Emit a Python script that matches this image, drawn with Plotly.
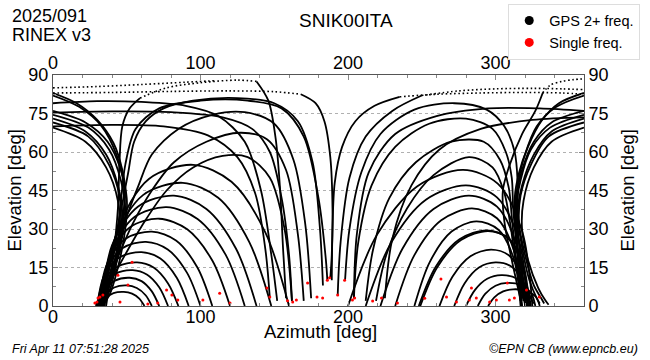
import plotly.graph_objects as go

# ---------------- data (azimuth [deg], elevation [deg]) ----------------
# tracks coming in from the left edge (wrapping north) and setting in the left (NE) funnel
LEFT_FUNNEL_TRACKS = [
    ([0, 16, 30, 41, 47, 49, 47, 42, 37, 35], [83, 79, 72.5, 63.5, 53, 45, 33, 18, 6, 2]),
    ([0, 18, 33, 43, 48, 48, 44, 39, 36], [82, 77.5, 70, 59, 47, 36, 20, 7, 3]),
    ([0, 22, 37, 46, 50, 49, 44, 38, 34], [76, 71.5, 64, 53, 42, 30, 15, 4, 1]),
    ([0, 24, 38, 46, 49, 46, 40, 35, 32], [74.5, 69.5, 61, 49, 37, 24, 11, 3, 1]),
    ([0, 22, 36, 44, 47, 45, 39, 33, 31], [73, 68, 59, 47, 36, 23, 10, 3, 1]),
    ([0, 24, 38, 45, 46, 43, 37, 32, 30], [71.5, 66, 55, 43, 32, 20, 8, 2, 1]),
    ([0, 22, 36, 44, 45, 42, 36, 31, 29], [69.5, 64, 54, 41, 30, 18, 7, 2, 0.5]),
]

# tracks coming in from the right edge and setting in the right (NW) funnel
RIGHT_FUNNEL_TRACKS = [
    ([360, 343, 331, 322, 316, 313, 314, 316, 317], [83, 79, 72, 62, 52, 42, 28, 12, 2]),
    ([360, 341, 328, 320, 315, 313, 315, 318, 320], [82, 77.5, 70, 59, 47, 36, 21, 7, 2]),
    ([360, 338, 326, 318, 314, 314, 317, 321, 323], [76, 71.5, 64, 53, 42, 30, 15, 5, 1]),
    ([360, 337, 324, 317, 314, 316, 320, 324, 326], [74.5, 69.5, 61, 49, 37, 24, 11, 3, 1]),
    ([360, 338, 326, 318, 315, 318, 323, 328, 330], [73, 68, 59, 47, 36, 23, 10, 3, 1]),
    ([360, 336, 324, 317, 316, 320, 326, 331, 333], [71.5, 66, 55, 43, 32, 20, 8, 3, 1]),
    ([360, 338, 326, 319, 318, 322, 329, 334, 336], [69.5, 64, 54, 41, 30, 18, 7, 2, 0.5]),
    ([318, 311, 306, 305, 309, 318, 327, 332], [0, 18, 33, 45, 54, 67, 76, 83]),
]

# high passes: left funnel / left edge -> over the top -> setting in the south (az 140-190)
HIGH_LEFT_TRACKS = [
    ([36, 41, 44, 45, 47, 52, 59], [0, 20, 38, 55, 70, 77, 81]),
    ([138, 146, 151, 154, 156, 158], [87.5, 80, 65, 45, 22, 3]),
    ([168, 178, 184, 188, 189.5, 189, 188], [82.5, 79, 72, 58, 38, 20, 11]),
    ([33, 40, 47, 51, 55, 63, 75, 95, 125, 150, 166, 176, 181, 183], [0, 20, 40, 52, 64, 72, 77, 80, 81, 79, 72, 56, 30, 8]),
    ([31, 39, 50, 58, 67, 85, 108, 130, 150, 163, 171, 175], [0, 17, 35, 47, 59, 69, 74.5, 75.5, 71, 57, 32, 3]),
    ([30, 41, 54, 67, 82, 104, 127, 145, 158, 166, 170], [0, 15, 32, 45, 56, 64, 67.5, 65, 53, 28, 2]),
    ([35, 44, 49, 56, 72, 100, 132, 155, 170, 180, 185, 186], [1, 30, 55, 69, 77, 80, 80, 77, 66, 42, 18, 10]),
    ([29, 45, 60, 77, 95, 115, 132, 147, 157, 162], [0, 16, 31, 45, 54, 58.5, 58, 50, 30, 2]),
    ([0, 40, 80, 115, 135, 147, 155, 160, 162], [75.3, 75.8, 75.5, 73.5, 69, 60, 42, 20, 2]),
    ([0, 30, 60, 90, 112, 130, 141, 148, 152], [79, 79.8, 79.5, 78, 74, 64, 45, 20, 2]),
    ([0, 40, 75, 105, 125, 137, 144, 147], [70, 70.6, 70, 66.5, 58, 44, 22, 3]),
]

# high passes: rising in the south (az 189-225) -> over the top -> right funnel / right edge
HIGH_RIGHT_TRACKS = [
    ([189, 189.5, 191, 196, 205, 218, 235], [10, 30, 48, 62, 72, 78, 81.5]),
    ([193, 195, 201, 212, 230, 250], [4, 25, 50, 66, 76, 82]),
    ([198, 201, 209, 222, 245, 272, 294, 306, 313, 315, 315, 318, 321], [10, 30, 52, 67, 76.5, 79, 76.5, 70, 60, 48, 32, 14, 2]),
    ([204, 207, 216, 232, 255, 280, 298, 307, 311, 312, 315, 319], [3, 25, 47, 62, 71, 73, 69, 60, 50, 38, 20, 3]),
    ([212, 217, 228, 246, 270, 292, 303, 309, 311, 314, 319], [2, 22, 42, 56, 64, 64, 57, 46, 35, 18, 2]),
    ([219, 226, 240, 258, 282, 298, 306, 310, 314, 320], [2, 20, 38, 51, 58, 54, 44, 32, 16, 1]),
    ([204, 206, 214, 232, 260, 295, 330, 360], [3, 28, 52, 67, 74, 77, 77, 76]),
    ([225, 230, 243, 262, 290, 325, 360], [3, 26, 47, 61, 69, 72.5, 73.5]),
]

# low arcs rising out of the left funnel
LOW_LEFT_ARCS = [
    ([35, 44, 65, 95, 121, 144, 160], [0, 30, 49.5, 55, 48.4, 28.6, 0]),
    ([34, 42, 61, 88, 112, 133, 148], [0, 26.4, 43.2, 48, 42.2, 25, 0]),
    ([33, 40, 57.5, 82, 104, 124, 138], [0, 23.6, 38.7, 43, 37.8, 22.4, 0]),
    ([33, 39.6, 55, 77, 98, 117, 130], [0, 21.2, 34.6, 38.5, 33.9, 20, 0]),
    ([32, 38, 52, 72, 91, 108, 120], [0, 18.7, 30.6, 34, 29.9, 17.7, 0]),
    ([31, 36.4, 49, 67, 83.4, 97.8, 108], [0, 16, 26.1, 29, 25.5, 15.1, 0]),
    ([31, 35.8, 47, 63, 77.8, 90.8, 100], [0, 13.8, 22.5, 25, 22, 13, 0]),
    ([30, 34.5, 45, 60, 72.8, 84, 92], [0, 11.6, 18.9, 21, 18.5, 10.9, 0]),
    ([30, 34, 43.5, 57, 68.2, 78, 85], [0, 9.4, 15.3, 17, 15, 8.8, 0]),
    ([31, 34.5, 42.5, 54, 63.6, 72, 78], [0, 7.7, 12.6, 14, 12.3, 7.3, 0]),
    ([32, 35, 42, 52, 60, 67, 72], [0, 6, 9.9, 11, 9.7, 5.7, 0]),
    ([33, 35.5, 41.5, 50, 56.8, 62.8, 67], [0, 4.4, 7.2, 8, 7, 4.2, 0]),
    ([34, 36, 41, 48, 53.6, 58.5, 62], [0, 3, 5, 5.5, 4.8, 2.9, 0]),
]

# low arcs setting into the right funnel
LOW_RIGHT_ARCS = [
    ([200, 219.5, 246.8, 278, 301.5, 318, 325], [0, 27.6, 46.6, 53, 47.7, 29.2, 0]),
    ([212, 229, 252.8, 280, 301, 315.7, 322], [0, 24.4, 41.4, 47, 42.3, 25.9, 0]),
    ([222, 237, 258, 282, 301, 314.3, 320], [0, 22.4, 37.8, 43, 38.7, 23.7, 0]),
    ([232, 245, 263.2, 284, 301, 312.9, 318], [0, 19.8, 33.4, 38, 34.2, 20.9, 0]),
    ([245, 255.5, 270.2, 287, 302, 312.5, 317], [0, 17.2, 29, 33, 29.7, 18.2, 0]),
    ([248, 259.5, 275.6, 294, 308, 317.8, 322], [0, 15.3, 26, 29.5, 26.6, 16.2, 0]),
    ([249, 260.5, 276.6, 295, 309, 318.8, 323], [0, 15.1, 25.7, 29.2, 26.3, 16, 0]),
    ([262, 270.8, 283, 297, 309, 317.4, 321], [0, 11.4, 19.4, 22, 19.8, 12.1, 0]),
    ([272, 279, 288.8, 300, 311, 318.7, 322], [0, 8.8, 15, 17, 15.3, 9.4, 0]),
    ([280, 286, 294.4, 304, 314, 321, 324], [0, 6.2, 10.6, 12, 10.8, 6.6, 0]),
    ([288, 293, 300, 308, 317.5, 324.2, 327], [0, 4.7, 7.9, 9, 8.1, 5, 0]),
    ([295, 299.2, 305.2, 312, 321, 327.3, 330], [0, 3.4, 5.7, 6.5, 5.9, 3.6, 0]),
]

# near-zenith parts, drawn as sparse dots
ZENITH_DOTTED = [
    ([0, 30, 60, 90, 110], [85, 85.5, 86.3, 87.2, 87.8]),
    ([59, 77, 100, 125, 138], [81, 85, 87, 88, 87.5]),
    ([0, 40, 80, 120, 150, 168], [83, 83.2, 83.6, 83.8, 83.5, 82.5]),
    ([235, 260, 290, 320, 345, 360], [81.5, 82.5, 83, 83.2, 83, 82.5]),
    ([250, 275, 300, 325, 345, 360], [82, 83.8, 84.6, 84.8, 84.6, 84.3]),
    ([332, 337, 345, 353, 360], [83, 86, 87.5, 88.2, 88.5]),
]

# single-frequency observations (red dots)
RED_AZ = [28.4, 29.8, 30.5, 31.8, 33.8, 44, 45.4, 50.8, 53.6, 64.3, 71, 77, 80.6, 84.6, 101.6,
          113, 120, 145, 147, 159, 162.5, 165, 172.6, 179, 182.8, 186, 187.5, 193, 197.7, 203,
          204.5, 216.7, 222.7, 233.5, 252, 263, 266.8, 273.5, 282.3, 283.7, 287, 296, 300.6,
          308, 309.4, 312.8, 321, 329.7]
RED_EL = [1.2, 1.6, 3.1, 3.5, 4.3, 12, 1.6, 8.2, 17, 0.8, 1.2, 6.2, 4.3, 2.3, 2.3,
          5, 1.2, 7, 3.5, 2, 1.6, 2.3, 9, 3.5, 3.1, 10, 11, 4.3, 10, 2.3,
          3.1, 1.9, 3.1, 1.2, 3, 10.5, 3.5, 1.6, 2.3, 7, 3.1, 1.6, 2.3,
          9, 2.3, 3.1, 6.2, 3.5]

X_TICKS = [0, 100, 200, 300]
Y_TICKS = [0, 15, 30, 45, 60, 75, 90]

FONT = "Liberation Sans, Arial, Helvetica, sans-serif"

# ---------------- figure ----------------
fig = go.Figure()


def add_track(az, el, width=1.8, dash=None):
    fig.add_trace(go.Scatter(
        x=az, y=el, mode="lines",
        line=dict(color="black", width=width, shape="spline", smoothing=0.9, dash=dash),
        showlegend=False, hoverinfo="skip"))


for group in (LEFT_FUNNEL_TRACKS, RIGHT_FUNNEL_TRACKS, HIGH_LEFT_TRACKS,
              HIGH_RIGHT_TRACKS, LOW_LEFT_ARCS, LOW_RIGHT_ARCS):
    for az, el in group:
        add_track(az, el)

for az, el in ZENITH_DOTTED:
    add_track(az, el, width=1.6, dash="1.6px,2.6px")

fig.add_trace(go.Scatter(x=RED_AZ, y=RED_EL, mode="markers",
                         marker=dict(color="red", size=3, line=dict(width=0)),
                         showlegend=False, hoverinfo="skip"))

# legend entries
fig.add_trace(go.Scatter(x=[None], y=[None], mode="markers", name="GPS 2+ freq.",
                         marker=dict(color="black", size=9)))
fig.add_trace(go.Scatter(x=[None], y=[None], mode="markers", name="Single freq.",
                         marker=dict(color="red", size=9)))

# dummy trace to activate the top / right axes
fig.add_trace(go.Scatter(x=[None], y=[None], xaxis="x2", yaxis="y2",
                         showlegend=False, hoverinfo="skip"))

tickfont = dict(family=FONT, size=18, color="black")
axis_common = dict(showline=True, linecolor="#555", linewidth=1, zeroline=False,
                   ticks="inside", ticklen=5, tickcolor="#888", tickfont=tickfont,
                   automargin=False)

fig.update_layout(
    width=650, height=360,
    margin=dict(l=53, r=66, t=75, b=54, autoexpand=False),
    paper_bgcolor="white", plot_bgcolor="white",
    font=dict(family=FONT, color="black"),
    xaxis=dict(range=[0, 360], tickvals=X_TICKS, showgrid=False, mirror=False,
               ticklabelstandoff=-6,
               minor=dict(ticks="inside", ticklen=3, tickcolor="#888", dtick=20, showgrid=False),
               **axis_common),
    xaxis2=dict(range=[0, 360], tickvals=X_TICKS, overlaying="x", side="top",
                showgrid=False, anchor="y", ticklabelstandoff=-2,
                minor=dict(ticks="inside", ticklen=3, tickcolor="#888", dtick=20, showgrid=False),
                **axis_common),
    yaxis=dict(range=[0, 90], tickvals=Y_TICKS, showgrid=True, gridcolor="#b0b0b0",
               griddash="dot", gridwidth=1,
               minor=dict(ticks="inside", ticklen=3, tickcolor="#888", dtick=7.5, showgrid=False),
               **axis_common),
    yaxis2=dict(range=[0, 90], tickvals=Y_TICKS, overlaying="y", side="right",
                showgrid=False, anchor="x",
                minor=dict(ticks="inside", ticklen=3, tickcolor="#888", dtick=7.5, showgrid=False),
                **axis_common),
    legend=dict(xref="container", yref="container", x=0.985, y=0.99,
                xanchor="right", yanchor="top",
                bgcolor="white", bordercolor="#ddd", borderwidth=1,
                font=dict(family=FONT, size=14.5, color="black"),
                itemwidth=30, tracegroupgap=0),
    showlegend=True,
)

annotations = [
    dict(text="SNIK00ITA", x=0.552, y=1.238, size=19, xanchor="center"),
    dict(text="2025/091", x=-0.081, y=1.255, size=18, xanchor="left"),
    dict(text="RINEX v3", x=-0.081, y=1.173, size=18, xanchor="left"),
    dict(text="Azimuth [deg]", x=0.503, y=-0.11, size=18.5, xanchor="center"),
    dict(text="<i>Fri Apr 11 07:51:28 2025</i>", x=-0.081, y=-0.186, size=12.5, xanchor="left"),
    dict(text="<i>©EPN CB (www.epncb.eu)</i>", x=1.105, y=-0.186, size=12.5, xanchor="right"),
]
for a in annotations:
    fig.add_annotation(text=a["text"], x=a["x"], y=a["y"], xref="paper", yref="paper",
                       xanchor=a["xanchor"], yanchor="middle", showarrow=False,
                       font=dict(family=FONT, size=a["size"], color="black"))

for xpos in (-0.0734, 1.081):
    fig.add_annotation(text="Elevation [deg]", x=xpos, y=0.5, xref="paper", yref="paper",
                       textangle=-90, showarrow=False, xanchor="center", yanchor="middle",
                       font=dict(family=FONT, size=18.5, color="black"))

fig.write_html("out.html", config={"displayModeBar": False},
               post_script="document.body.style.margin='0';document.body.style.overflow='hidden';")
